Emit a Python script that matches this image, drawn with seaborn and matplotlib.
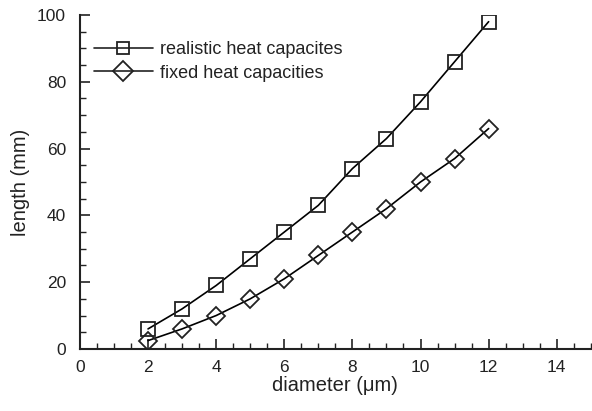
import matplotlib
matplotlib.use("Agg")
import matplotlib.pyplot as plt
import seaborn as sns
import pandas as pd
from matplotlib.ticker import MultipleLocator

diameter = [2, 3, 4, 5, 6, 7, 8, 9, 10, 11, 12]
realistic = [6, 12, 19, 27, 35, 43, 54, 63, 74, 86, 98]
fixed = [2.5, 6, 10, 15, 21, 28, 35, 42, 50, 57, 66]
series_names = ["realistic heat capacites", "fixed heat capacities"]

sns.set_style("ticks")
plt.rcParams['font.family'] = ['Liberation Sans', 'DejaVu Sans']

df = pd.DataFrame({
    "diameter": diameter * 2,
    "length": realistic + fixed,
    "series": [series_names[0]] * len(diameter) + [series_names[1]] * len(diameter),
})

fig = plt.figure(figsize=(5.92, 4.11), dpi=100)
ax = fig.add_axes([0.135, 0.151, 0.863, 0.8125])

sns.lineplot(data=df, x="diameter", y="length", hue="series", style="series",
             markers={series_names[0]: "s", series_names[1]: "D"}, dashes=False,
             palette={series_names[0]: "black", series_names[1]: "black"},
             markersize=9.5, markerfacecolor="none", markeredgecolor="#222222",
             markeredgewidth=1.3, linewidth=1.2, ax=ax)

ax.set_xlim(0, 15)
ax.set_ylim(0, 100)
ax.xaxis.set_major_locator(MultipleLocator(2))
ax.xaxis.set_minor_locator(MultipleLocator(0.5))
ax.yaxis.set_major_locator(MultipleLocator(20))
ax.yaxis.set_minor_locator(MultipleLocator(5))
ax.tick_params(which="major", direction="in", length=7, width=1.2, labelsize=12.5,
               colors="#222222")
ax.tick_params(axis="x", which="major", pad=8)
ax.tick_params(axis="y", which="major", pad=10)
ax.tick_params(which="minor", direction="in", length=4, width=1.0, colors="#222222")
for s in ["top", "right"]:
    ax.spines[s].set_visible(False)
for s in ["left", "bottom"]:
    ax.spines[s].set_linewidth(1.5)
    ax.spines[s].set_color("#222222")

ax.set_xlabel("diameter (\u03bcm)", fontsize=14.5, color="#222222", labelpad=1)
ax.set_ylabel("length (mm)", fontsize=14.5, color="#222222", labelpad=5)

leg = ax.legend(loc="upper left", bbox_to_anchor=(-0.005, 0.97), frameon=False,
                handlelength=3.3, fontsize=13, labelspacing=0.35, handletextpad=0.4)
for h in leg.legend_handles:
    h.set_markerfacecolor("none")
    h.set_markeredgecolor("#222222")
    h.set_color("#222222")
    if h.get_marker() == "s":
        h.set_markersize(8)
    else:
        h.set_markersize(10)
for t in leg.get_texts():
    t.set_color("#222222")

fig.savefig("out.png", dpi=100)
